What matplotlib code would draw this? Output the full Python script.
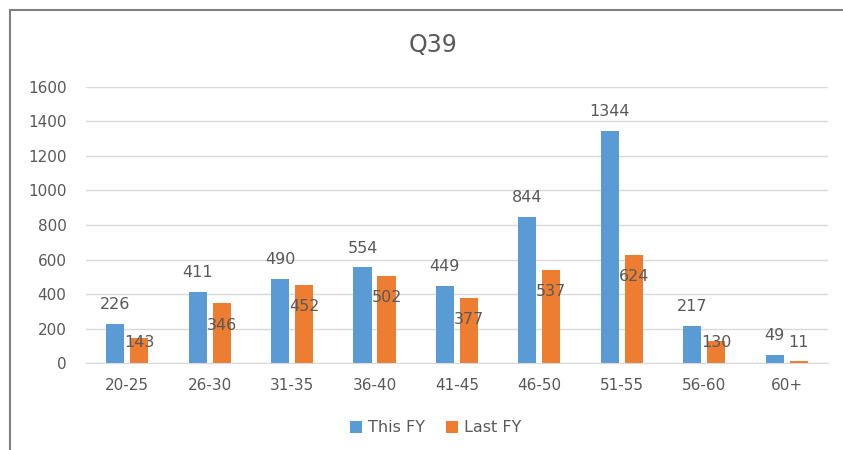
import numpy as np
import matplotlib.pyplot as plt
from matplotlib.patches import Rectangle

# age groups and counts per financial year
groups = ["20-25", "26-30", "31-35", "36-40", "41-45", "46-50", "51-55", "56-60", "60+"]
this_fy = [226, 411, 490, 554, 449, 844, 1344, 217, 49]
last_fy = [143, 346, 452, 502, 377, 537, 624, 130, 11]

# heights where the Last FY numbers sit
last_label_y = [117, 216, 327, 379, 251, 414, 502, 117, 117]

blue = "#5B9BD5"
orange = "#ED7D31"
grey = "#595959"
font = "DejaVu Sans"

fig = plt.figure(figsize=(8.43, 4.5), dpi=100)
fig.patches.append(Rectangle((10 / 843, -0.1), 1.2, 1 - 10 / 450 + 0.1,
                             transform=fig.transFigure, fill=False,
                             edgecolor="#7f7f7f", linewidth=1.5))

ax = fig.add_axes([0.102, 0.193, 0.88, 0.614])
x = np.arange(len(groups))
w = 0.22
off = 0.146
ax.bar(x - off, this_fy, w, color=blue, label="This FY", zorder=2)
ax.bar(x + off, last_fy, w, color=orange, label="Last FY", zorder=2)

for xi, v in zip(x, this_fy):
    ax.annotate(str(v), (xi - off, v), xytext=(0, 14), textcoords="offset points",
                ha="center", va="center", fontsize=11.5, color=grey, family=font)
for xi, v, ly in zip(x, last_fy, last_label_y):
    ax.text(xi + off, ly, str(v), ha="center", va="center", fontsize=11.5,
            color=grey, family=font, zorder=3)

ax.set_xlim(-0.5, len(groups) - 0.5)
ax.set_ylim(0, 1600)
ax.set_yticks(range(0, 1601, 200))
ax.set_xticks(x)
ax.set_xticklabels(groups)
ax.yaxis.grid(True, color="#d9d9d9", linewidth=1, zorder=0)
ax.set_axisbelow(True)
for s in ["top", "right", "left"]:
    ax.spines[s].set_visible(False)
ax.spines["bottom"].set_color("#d9d9d9")
ax.tick_params(length=0, labelsize=11, labelcolor=grey)
ax.tick_params(axis="x", pad=11)
ax.tick_params(axis="y", pad=14)
for lab in ax.get_xticklabels() + ax.get_yticklabels():
    lab.set_family(font)

fig.text(0.514, 0.9, "Q39", ha="center", va="center", fontsize=17,
         color=grey, family=font)

fig.legend(loc="center", bbox_to_anchor=(0.517, 0.049), ncol=2, frameon=False,
           handlelength=0.75, handleheight=0.75, handletextpad=0.4,
           columnspacing=1.3, prop={"family": font, "size": 11.5},
           labelcolor=grey)

fig.savefig("out.png", dpi=100)
